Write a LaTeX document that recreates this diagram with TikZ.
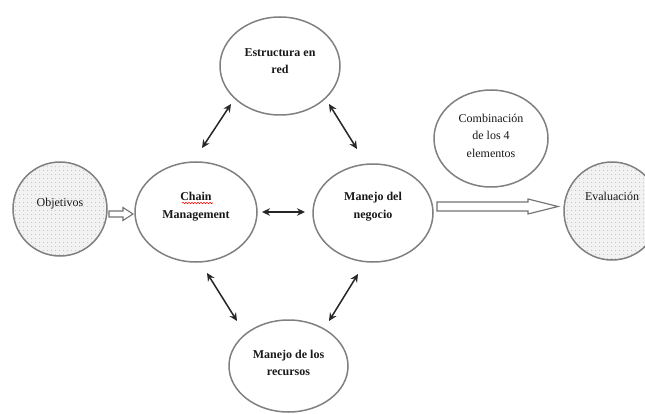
\documentclass[tikz,border=0pt]{standalone}
\usepackage{fontspec}
\setmainfont{Liberation Serif}
\usetikzlibrary{shapes.geometric,patterns.meta,calc,arrows.meta,decorations.pathmorphing}
\newcommand\tx[2]{\raisebox{#1}[\height][\depth]{\begin{tabular}{@{}c@{}}#2\end{tabular}}}
\begin{document}
\begin{tikzpicture}[x=1pt,y=-1pt,
 el/.style={ellipse, draw=black!50, line width=1.5pt, inner sep=0pt, font=\fontsize{12}{17.5}\selectfont, text=black!90},
 bl/.style={el, font=\fontsize{12}{17.5}\selectfont\bfseries},
 dotfill/.style={preaction={fill=black!5}, pattern={Dots[distance=4pt,radius=0.55pt]}, pattern color=black!35},
 biarrow/.style={{Stealth[length=8pt,width=7.5pt]}-{Stealth[length=8pt,width=7.5pt]}, line width=1.5pt, black!85},
 hollow/.style={draw=black!55, line width=1.1pt, fill=white, line join=miter}
]
\clip (0,0) rectangle (645,414);
\fill[white] (0,0) rectangle (645,414);

\node[el, dotfill, minimum width=94pt, minimum height=94pt] (obj) at (60,209) {\tx{6pt}{Objetivos}};
\node[bl, minimum width=122pt, minimum height=100pt] (chain) at (196,212) {\tx{6pt}{Chain\\Management}};
\node[bl, minimum width=120pt, minimum height=98pt] (neg) at (373,213) {\tx{7pt}{Manejo del\\negocio}};
\node[bl, minimum width=120pt, minimum height=98pt] (estr) at (280,66) {\tx{4.5pt}{Estructura en\\red}};
\node[bl, minimum width=119pt, minimum height=92pt] (rec) at (288.5,366) {\tx{2.5pt}{Manejo de los\\recursos}};
\node[el, minimum width=114pt, minimum height=97pt] (comb) at (491,138.5) {\tx{2pt}{Combinación\\de los 4\\elementos}};
\node[el, dotfill, minimum width=96pt, minimum height=98pt] (eva) at (612,211) {\tx{14pt}{Evaluación}};

\draw[biarrow] ($(estr.center)+(-49,38)$) -- ($(chain.center)+(6,-64)$);
\draw[biarrow] ($(estr.center)+(49,38)$) -- ($(neg.center)+(-16,-64)$);
\draw[biarrow] ($(chain.center)+(66,0)$) -- ($(neg.center)+(-68,-1)$);
\draw[biarrow] ($(chain.center)+(11,61)$) -- ($(rec.center)+(-51.5,-45)$);
\draw[biarrow] ($(neg.center)+(-15,61)$) -- ($(rec.center)+(40.5,-45)$);

\begin{scope}[shift={(obj.center)}]
\draw[hollow] (49,2) -- (63,2) -- (63,-1.5) -- (73,5) -- (63,11.5) -- (63,8) -- (49,8) -- cycle;
\end{scope}
\begin{scope}[shift={(neg.center)}]
\draw[hollow] (64,-11) -- (155,-11) -- (155,-14) -- (185,-6.5) -- (155,1) -- (155,-2) -- (64,-2) -- cycle;
\end{scope}

\draw[red, line width=0.6pt, decorate, decoration={snake,amplitude=0.7pt,segment length=3pt}] ($(chain.center)+(-14,-9)$) -- ($(chain.center)+(17,-9)$);
\end{tikzpicture}
\end{document}
